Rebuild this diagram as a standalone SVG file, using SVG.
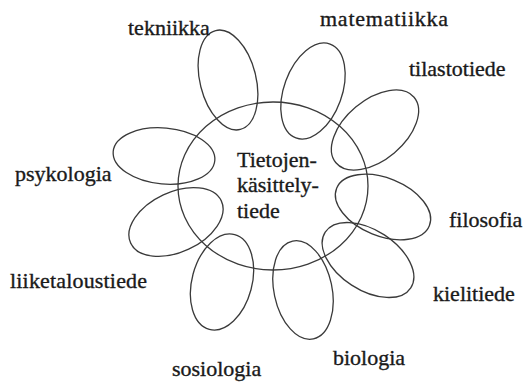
<svg xmlns="http://www.w3.org/2000/svg" width="523" height="382" viewBox="0 0 523 382">
<style>
.sh{fill:none;stroke:#3a3a3a;stroke-width:1.3}
text{font-family:'Liberation Serif','DejaVu Serif',serif;font-size:22px;fill:#1a1a1a;stroke:#1a1a1a;stroke-width:0.35}
</style>
<rect width="523" height="382" fill="#fff"/>
<g id="center">
<ellipse class="sh" cx="273" cy="186" rx="95" ry="84"/>
<text x="237" y="167">Tietojen-</text>
<text x="237" y="192">käsittely-</text>
<text x="237" y="218">tiede</text>
</g>
<g id="tekniikka">
<ellipse class="sh" cx="228" cy="80" rx="28" ry="51" transform="rotate(-14 228 80)"/>
<text x="128" y="35">tekniikka</text>
</g>
<g id="matematiikka">
<ellipse class="sh" cx="313" cy="91" rx="29" ry="50" transform="rotate(20 313 91)"/>
<text x="320" y="26" textLength="128" lengthAdjust="spacing">matematiikka</text>
</g>
<g id="tilastotiede">
<ellipse class="sh" cx="375" cy="130" rx="51" ry="30" transform="rotate(-40 375 130)"/>
<text x="409" y="76">tilastotiede</text>
</g>
<g id="filosofia">
<ellipse class="sh" cx="383" cy="207" rx="50" ry="29" transform="rotate(22 383 207)"/>
<text x="449" y="227">filosofia</text>
</g>
<g id="kielitiede">
<ellipse class="sh" cx="368" cy="260" rx="51" ry="30" transform="rotate(33 368 260)"/>
<text x="433" y="301">kielitiede</text>
</g>
<g id="biologia">
<ellipse class="sh" cx="303" cy="290" rx="29" ry="50" transform="rotate(-12 303 290)"/>
<text x="333" y="365">biologia</text>
</g>
<g id="sosiologia">
<ellipse class="sh" cx="222" cy="282" rx="30" ry="49" transform="rotate(15 222 282)"/>
<text x="172" y="376">sosiologia</text>
</g>
<g id="liiketaloustiede">
<ellipse class="sh" cx="176" cy="222" rx="50" ry="30" transform="rotate(-25 176 222)"/>
<text x="10" y="288" textLength="137" lengthAdjust="spacing">liiketaloustiede</text>
</g>
<g id="psykologia">
<ellipse class="sh" cx="164" cy="156" rx="51" ry="28" transform="rotate(5 164 156)"/>
<text x="15" y="181">psykologia</text>
</g>
<g id="connectors"></g>
</svg>
